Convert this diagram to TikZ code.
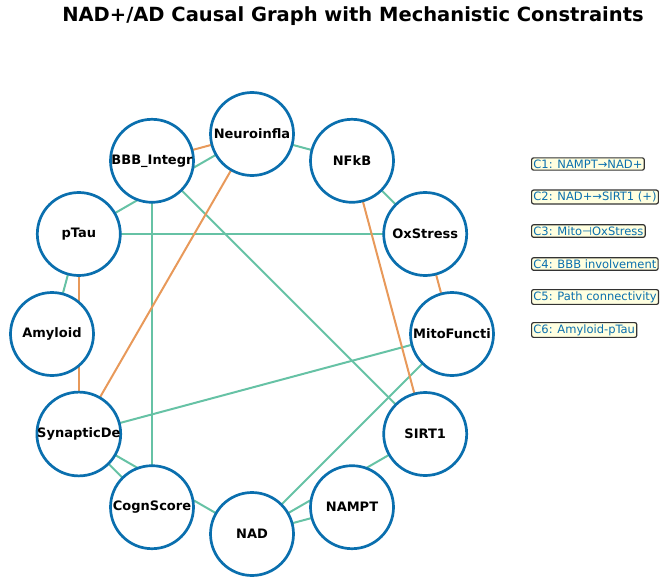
\documentclass[tikz,border=0pt]{standalone}
\usepackage{fontspec}
\setmainfont{DejaVu Sans}
\usepackage{tikz}
\usetikzlibrary{backgrounds}
\definecolor{nodeblue}{HTML}{0A6FAE}
\definecolor{linkgreen}{HTML}{66C2A5}
\definecolor{linkorange}{HTML}{E8995A}
\definecolor{notefill}{HTML}{FFFFE0}
\definecolor{noteedge}{HTML}{333333}
\tikzset{
  factor/.style={circle, draw=nodeblue, line width=2.7pt, fill=white,
    minimum size=83pt, inner sep=0pt,
    font=\fontsize{13}{15}\selectfont\bfseries},
  poslink/.style={draw=linkgreen, line width=2pt},
  neglink/.style={draw=linkorange, line width=2pt},
  constraint/.style={draw=noteedge, fill=notefill, line width=1.2pt,
    rounded corners=2pt, inner sep=1.8pt, anchor=west, text=nodeblue,
    font=\fontsize{11.5}{13}\selectfont}
}

\begin{document}
\begin{tikzpicture}[x=1pt, y=-1pt]
          \useasboundingbox (0, 0) rectangle (660, 580);

          \node (title) at (353, 16) {\fontsize{19.5}{22}\selectfont\bfseries NAD+/AD Causal Graph with Mechanistic Constraints};

          % factors round the circle
          \node[factor] (neuro) at (252, 134) {Neuroinfla};
          \node[factor] (nfkb) at (352, 160.8) {NFkB};
          \node[factor] (oxs) at (425.2, 234) {OxStress};
          \node[factor] (mito) at (452, 334) {MitoFuncti};
          \node[factor] (sirt) at (425.2, 434) {SIRT1};
          \node[factor] (nampt) at (352, 507.2) {NAMPT};
          \node[factor] (nad) at (252, 534) {NAD};
          \node[factor] (cogn) at (152, 507.2) {CognScore};
          \node[factor] (syn) at (78.8, 434) {SynapticDe};
          \node[factor] (amy) at (52, 334) {Amyloid};
          \node[factor] (ptau) at (78.8, 234) {pTau};
          \node[factor] (bbb) at (152, 160.8) {BBB\_Integr};

          \begin{pgfonlayer}{background}
          \draw[poslink] (neuro.center) -- (nfkb.center);
          \draw[poslink] (ptau.center) -- (neuro.center);
          \draw[poslink] (bbb.center) -- (cogn.center);
          \draw[poslink] (bbb.center) -- (sirt.center);
          \draw[poslink] (nfkb.center) -- (oxs.center);
          \draw[poslink] (ptau.center) -- (oxs.center);
          \draw[poslink] (ptau.center) -- (amy.center);
          \draw[poslink] (mito.center) -- (syn.center);
          \draw[poslink] (mito.center) -- (nad.center);
          \draw[poslink] (sirt.center) -- (nad.center);
          \draw[poslink] (nampt.center) -- (nad.center);
          \draw[poslink] (syn.center) -- (cogn.center);
          \draw[poslink] (syn.center) -- (nad.center);

          \draw[neglink] (neuro.center) -- (bbb.center);
          \draw[neglink] (neuro.center) -- (syn.center);
          \draw[neglink] (nfkb.center) -- (sirt.center);
          \draw[neglink] (oxs.center) -- (mito.center);
          \draw[neglink] (ptau.center) -- (syn.center);
          \end{pgfonlayer}

          % constraint notes
          \node[constraint] (c1) at (531, 164) {C1: NAMPT→NAD+};
          \node[constraint] (c2) at (531, 197) {C2: NAD+→SIRT1 (+)};
          \node[constraint] (c3) at (531, 231) {C3: Mito⊣OxStress};
          \node[constraint] (c4) at (531, 264) {C4: BBB involvement};
          \node[constraint] (c5) at (531, 297) {C5: Path connectivity};
          \node[constraint] (c6) at (531, 330) {C6: Amyloid-pTau};
        \end{tikzpicture}
\end{document}
